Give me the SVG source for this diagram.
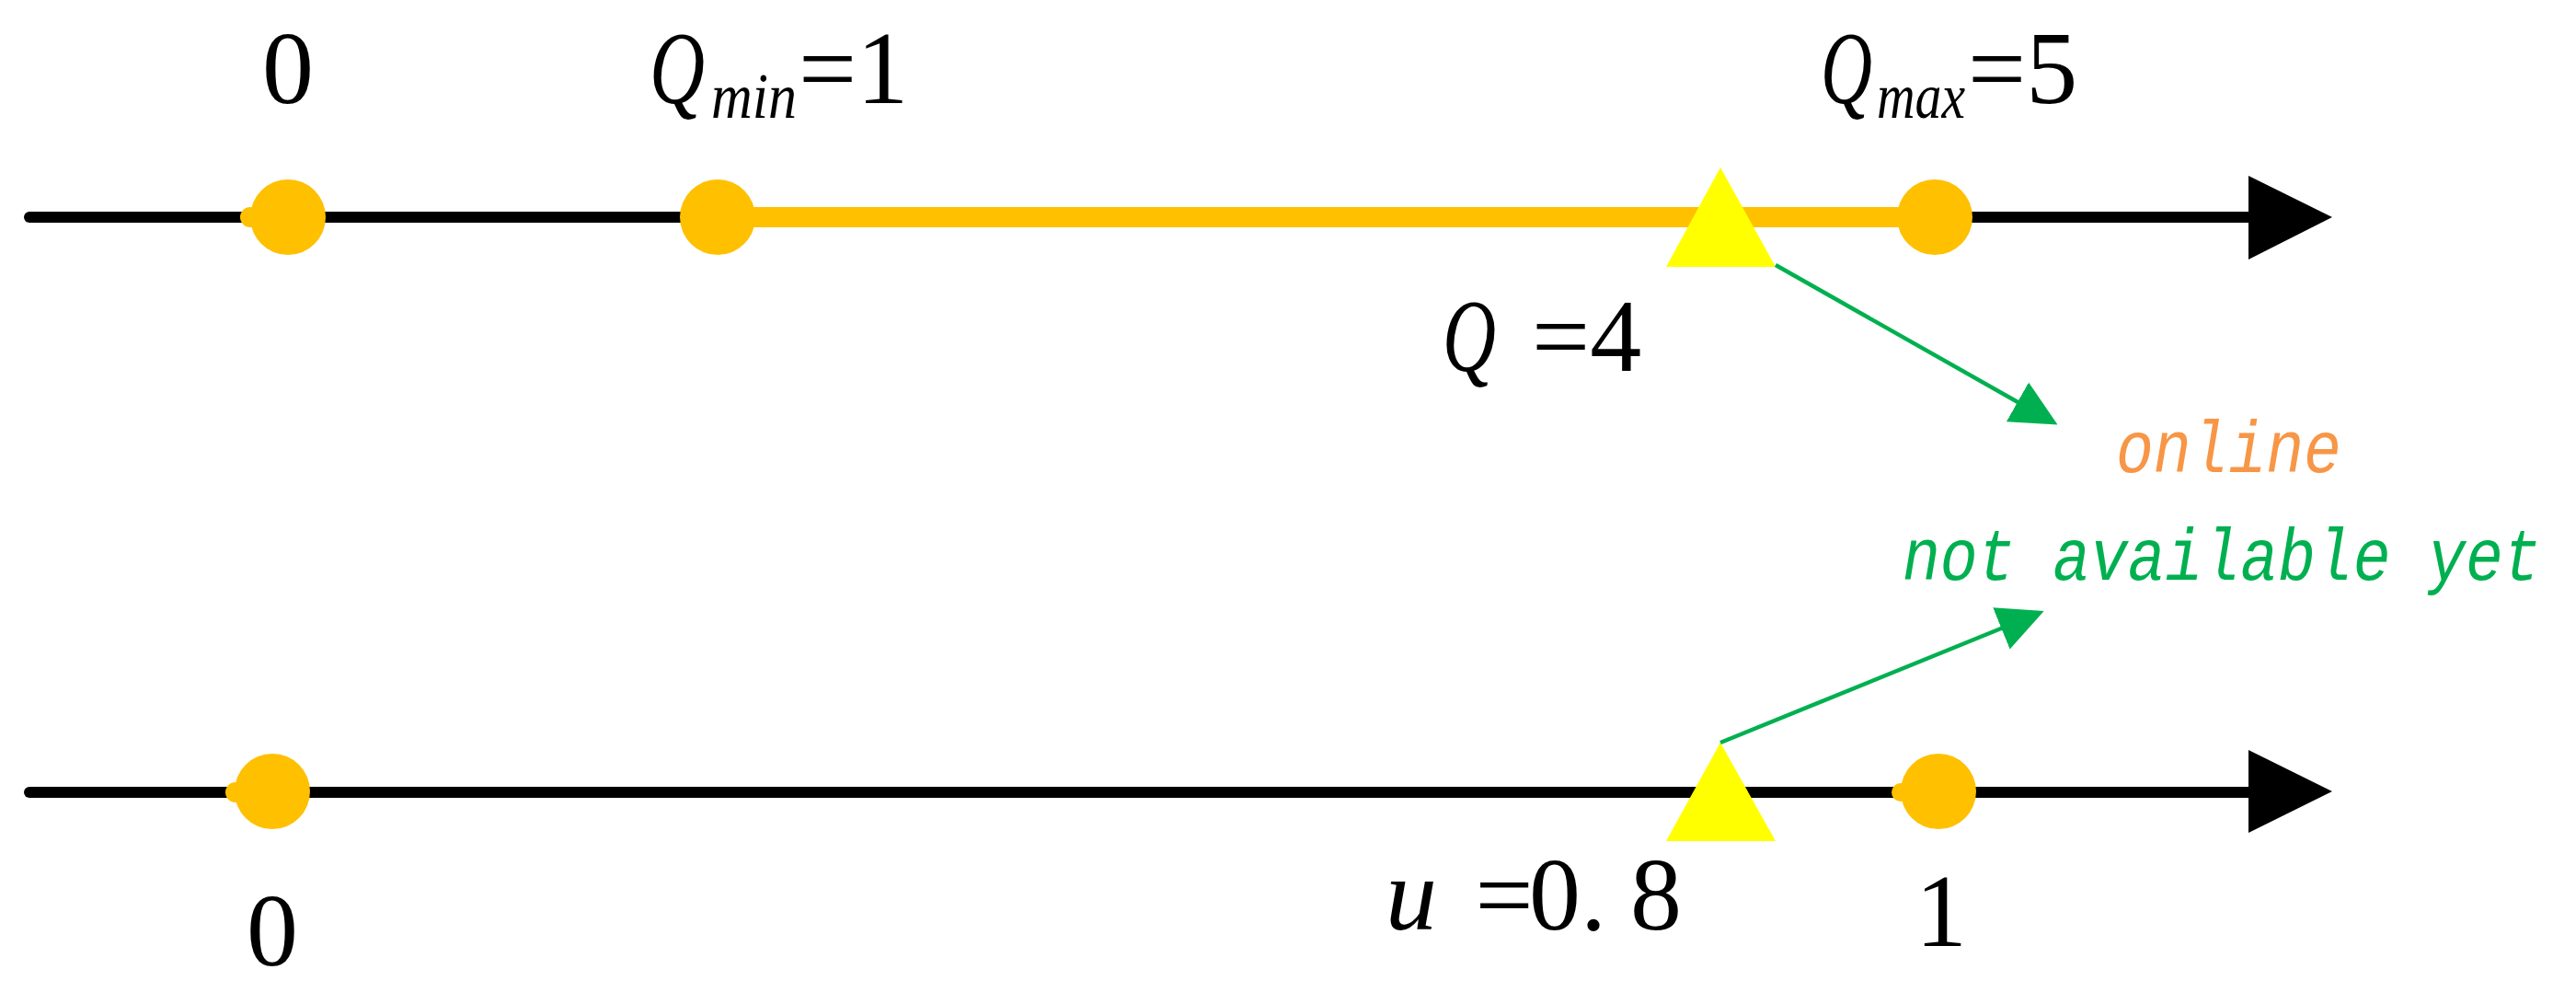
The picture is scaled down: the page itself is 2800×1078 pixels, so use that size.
<svg xmlns="http://www.w3.org/2000/svg" width="2800" height="1078" viewBox="0 0 2800 1078">
<style>
.axis{stroke:#000;stroke-width:12;stroke-linecap:round;fill:none}
.ahead{fill:#000}
.dot{fill:#FFC000}
.tri{fill:#FFFF00}
.gline{stroke:#00B050;stroke-width:4.5;fill:none}
.lbl{font-family:"Liberation Serif","Times New Roman",serif;font-size:112px;fill:#000}
.it{font-style:italic}
.sub{font-family:"Liberation Serif","Times New Roman",serif;font-size:70px;font-style:italic;fill:#000}
.mono{font-family:"Liberation Mono","Courier New",monospace;font-size:68px;font-style:italic}
</style>
<defs>
<marker id="garrow" markerUnits="userSpaceOnUse" markerWidth="50" markerHeight="50" refX="27" refY="23" orient="auto" viewBox="0 0 47 46">
<path d="M0,0 L47,23 L0,46 z" fill="#00B050"/>
</marker>
</defs>
<rect width="2800" height="1078" fill="#fff"/>

<g id="axis-top">
<line class="axis" x1="32" y1="236" x2="2450" y2="236"/>
<polygon class="ahead" points="2444,191 2535,236 2444,282"/>
</g>
<g id="axis-bottom">
<line class="axis" x1="32" y1="861" x2="2450" y2="861"/>
<polygon class="ahead" points="2444,815 2535,860 2444,905"/>
</g>

<g id="range-bar">
<line x1="780" y1="236" x2="2103" y2="236" stroke="#FFC000" stroke-width="22"/>
</g>

<g id="node-top-0">
<circle class="dot" cx="272" cy="236" r="11"/>
<circle class="dot" cx="313" cy="236" r="41"/>
<text class="lbl" x="313" y="112" text-anchor="middle">0</text>
</g>
<g id="node-qmin">
<circle class="dot" cx="780" cy="236" r="41"/>
<text class="lbl it" x="706" y="112" textLength="60" lengthAdjust="spacingAndGlyphs">Q</text>
<text class="sub" x="773" y="128" textLength="93" lengthAdjust="spacingAndGlyphs">min</text>
<text class="lbl" x="868" y="112">=1</text>
</g>
<g id="node-qmax">
<circle class="dot" cx="2103" cy="236" r="41"/>
<text class="lbl it" x="1979" y="112" textLength="56" lengthAdjust="spacingAndGlyphs">Q</text>
<text class="sub" x="2040" y="128" textLength="96" lengthAdjust="spacingAndGlyphs">max</text>
<text class="lbl" x="2139" y="112">=5</text>
</g>
<g id="node-q">
<polygon class="tri" points="1870,182 1930,290 1811,290"/>
<text class="lbl it" x="1568" y="403" textLength="58" lengthAdjust="spacingAndGlyphs">Q</text>
<text class="lbl" x="1665" y="403">=4</text>
</g>

<g id="node-bottom-0">
<circle class="dot" cx="256" cy="861" r="11"/>
<circle class="dot" cx="296" cy="860" r="41"/>
<text class="lbl" x="296" y="1049" text-anchor="middle">0</text>
</g>
<g id="node-bottom-1">
<circle class="dot" cx="2066" cy="861" r="10"/>
<circle class="dot" cx="2107" cy="860" r="41"/>
<text class="lbl" x="2110" y="1028" text-anchor="middle">1</text>
</g>
<g id="node-u">
<polygon class="tri" points="1870,807 1930,914 1811,914"/>
<text class="lbl it" x="1534" y="1010" text-anchor="middle">u</text>
<text class="lbl" x="1635" y="1010" text-anchor="middle">=</text>
<text class="lbl" x="1690" y="1010" text-anchor="middle">0</text>
<text class="lbl" x="1732" y="1010" text-anchor="middle">.</text>
<text class="lbl" x="1800" y="1010" text-anchor="middle">8</text>
</g>

<g id="node-online">
<text class="mono" transform="translate(2300,513) scale(1,1.17)" x="0" y="0" fill="#F79646">online</text>
</g>
<g id="node-notyet">
<text class="mono" transform="translate(2068,630) scale(1,1.17)" x="0" y="0" fill="#00B050">not available yet</text>
</g>

<g id="connectors">
<line class="gline" x1="1930" y1="288" x2="2218" y2="451" marker-end="url(#garrow)"/>
<line class="gline" x1="1870" y1="807" x2="2202" y2="672" marker-end="url(#garrow)"/>
</g>
</svg>
